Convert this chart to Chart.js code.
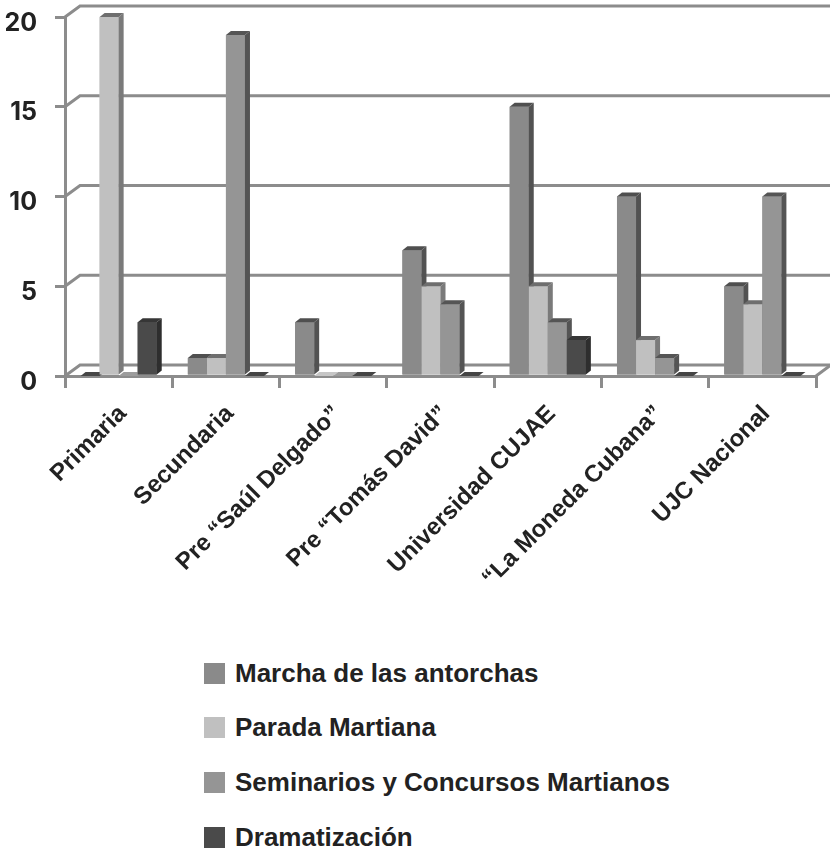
<!DOCTYPE html>
<html>
<head>
<meta charset="utf-8">
<title>Actividades martianas por institución</title>
<script src="https://cdn.jsdelivr.net/npm/chart.js@4.4.1/dist/chart.umd.min.js"></script>
<style>
  html, body { margin: 0; padding: 0; background: #fff; }
  #wrap { position: relative; width: 830px; height: 854px; overflow: hidden; }
  #plot { position: absolute; left: 0; top: 0; }
  #legend {
    position: absolute; left: 204px; top: 646px; margin: 0; padding: 0; list-style: none;
    font: bold 26px "Liberation Sans", Arial, sans-serif; color: #222;
  }
  #legend li { display: flex; align-items: center; height: 54.6px; white-space: nowrap; }
  #legend .box { display: inline-block; width: 21px; height: 21px; margin-right: 10px; }
</style>
</head>
<body>
<div id="wrap">
  <canvas id="plot" width="830" height="640"></canvas>
  <ul id="legend"></ul>
</div>
<script>
// Institutions along the horizontal axis
const categories = ['Primaria', 'Secundaria', 'Pre \u201CSa\u00FAl Delgado\u201D', 'Pre \u201CTom\u00E1s David\u201D',
                    'Universidad CUJAE', '\u201CLa Moneda Cubana\u201D', 'UJC Nacional'];

// Number of activities per institution
const marcha        = [0, 1, 3, 7, 15, 10, 5];
const parada        = [20, 1, 0, 5, 5, 2, 4];
const seminarios    = [0, 19, 0, 4, 3, 1, 10];
const dramatizacion = [3, 0, 0, 0, 2, 0, 0];

const seriesNames = ['Marcha de las antorchas', 'Parada Martiana', 'Seminarios y Concursos Martianos', 'Dramatizaci\u00F3n'];
const yTicks = [0, 5, 10, 15, 20];

// Shades for the faces of each series: front, right side, top, and the flat cap of empty bars
const frontColors = ['#8a8a8a', '#c0c0c0', '#959595', '#4a4a4a'];
const sideColors  = ['#525252', '#7a7a7a', '#545454', '#2e2e2e'];
const topColors   = ['#4f4f4f', '#6e6e6e', '#555555', '#363636'];
const flatColors  = ['#474747', '#c6c6c6', '#9c9c9c', '#454545'];

const GRID = '#8c8c8c';
const WALL_DX = 15, WALL_DY = 11;   // depth of the back wall
const BAR_DX = 5, BAR_DY = 4;       // depth of each column
const FONT = '"Liberation Sans", Arial, sans-serif';

// Back wall, side wall and floor outline, the column faces and the slanted category names
const frame3d = {
  id: 'frame3d',
  beforeDatasetsDraw(chart) {
    const { ctx, scales: { x, y } } = chart;
    const l = x.left, r = x.right, b = y.bottom;
    ctx.save();
    ctx.strokeStyle = GRID;
    ctx.lineWidth = 3;
    yTicks.forEach(v => {
      const py = y.getPixelForValue(v);
      ctx.beginPath();
      ctx.moveTo(l, py);
      ctx.lineTo(l + WALL_DX, py - WALL_DY);
      ctx.lineTo(r + WALL_DX + 4, py - WALL_DY);
      ctx.stroke();
    });
    ctx.beginPath();
    ctx.moveTo(r, b);
    ctx.lineTo(r + WALL_DX, b - WALL_DY);
    ctx.stroke();
    ctx.restore();
  },
  // Columns redrawn left to right so side faces tuck behind the next column
  afterDatasetsDraw(chart) {
    const { ctx } = chart;
    const items = [];
    chart.data.datasets.forEach((ds, di) => {
      chart.getDatasetMeta(di).data.forEach((bar, i) => items.push({ bar, di, v: ds.data[i] }));
    });
    items.sort((a, b) => a.bar.x - b.bar.x);
    ctx.save();
    items.forEach(({ bar, di, v }) => {
      const { x, y, base, width } = bar.getProps(['x', 'y', 'base', 'width'], true);
      const L = x - width / 2, R = x + width / 2;
      if (v === 0) {
        ctx.fillStyle = flatColors[di];
        ctx.beginPath();
        ctx.moveTo(L, base); ctx.lineTo(L + BAR_DX, base - BAR_DY);
        ctx.lineTo(R + BAR_DX, base - BAR_DY); ctx.lineTo(R, base);
        ctx.closePath(); ctx.fill();
        return;
      }
      ctx.fillStyle = frontColors[di];
      ctx.fillRect(L, y, width, base - y);
      ctx.fillStyle = sideColors[di];
      ctx.beginPath();
      ctx.moveTo(R, y); ctx.lineTo(R + BAR_DX, y - BAR_DY);
      ctx.lineTo(R + BAR_DX, base - BAR_DY); ctx.lineTo(R, base);
      ctx.closePath(); ctx.fill();
      ctx.fillStyle = topColors[di];
      ctx.beginPath();
      ctx.moveTo(L, y); ctx.lineTo(L + BAR_DX, y - BAR_DY);
      ctx.lineTo(R + BAR_DX, y - BAR_DY); ctx.lineTo(R, y);
      ctx.closePath(); ctx.fill();
    });
    ctx.restore();
  },
  afterDraw(chart) {
    const { ctx, scales: { x, y } } = chart;
    ctx.save();
    ctx.font = 'bold 24px ' + FONT;
    ctx.fillStyle = '#222';
    ctx.textAlign = 'right';
    ctx.textBaseline = 'middle';
    categories.forEach((lab, i) => {
      ctx.save();
      ctx.translate(x.getPixelForValue(i) + 4, y.bottom + 34);
      ctx.rotate(-Math.PI / 4);
      ctx.fillText(lab, 0, 0);
      ctx.restore();
    });
    ctx.restore();
  }
};

const seriesData = [marcha, parada, seminarios, dramatizacion];

const chart = new Chart(document.getElementById('plot'), {
  type: 'bar',
  data: {
    labels: categories,
    datasets: seriesData.map((d, i) => ({
      label: seriesNames[i],
      data: d,
      backgroundColor: frontColors[i],
      borderWidth: 0,
      barPercentage: 1.0,
      categoryPercentage: 0.71
    }))
  },
  options: {
    responsive: false,
    animation: false,
    layout: { padding: { top: 17, right: 14, bottom: 252, left: 0 } },
    plugins: { legend: { display: false }, tooltip: { enabled: false } },
    scales: {
      x: {
        afterFit(scale) {
          scale.height = 12;
          scale.paddingLeft = 0; scale.paddingRight = 0;
        },
        ticks: { display: false },
        grid: { drawOnChartArea: false, drawTicks: true, tickLength: 12, color: GRID, lineWidth: 3 },
        border: { display: true, color: GRID, width: 3 }
      },
      y: {
        min: 0, max: 20,
        afterFit(scale) {
          scale.width = 65;
          scale.paddingTop = 0; scale.paddingBottom = 0;
        },
        afterBuildTicks(scale) { scale.ticks = yTicks.map(v => ({ value: v })); },
        ticks: { padding: 18, labelOffset: 6, color: '#222', font: { family: 'Inter, "Liberation Sans", sans-serif', size: 25, weight: 'bold' } },
        grid: { drawOnChartArea: false, drawTicks: true, tickLength: 10, color: GRID, lineWidth: 3 },
        border: { display: true, color: GRID, width: 3 }
      }
    }
  },
  plugins: [frame3d]
});

// Legend as a single column below the chart
const legend = document.getElementById('legend');
chart.data.datasets.forEach(ds => {
  const li = document.createElement('li');
  const box = document.createElement('span');
  box.className = 'box';
  box.style.background = ds.backgroundColor;
  li.appendChild(box);
  li.appendChild(document.createTextNode(ds.label));
  legend.appendChild(li);
});
</script>
</body>
</html>
